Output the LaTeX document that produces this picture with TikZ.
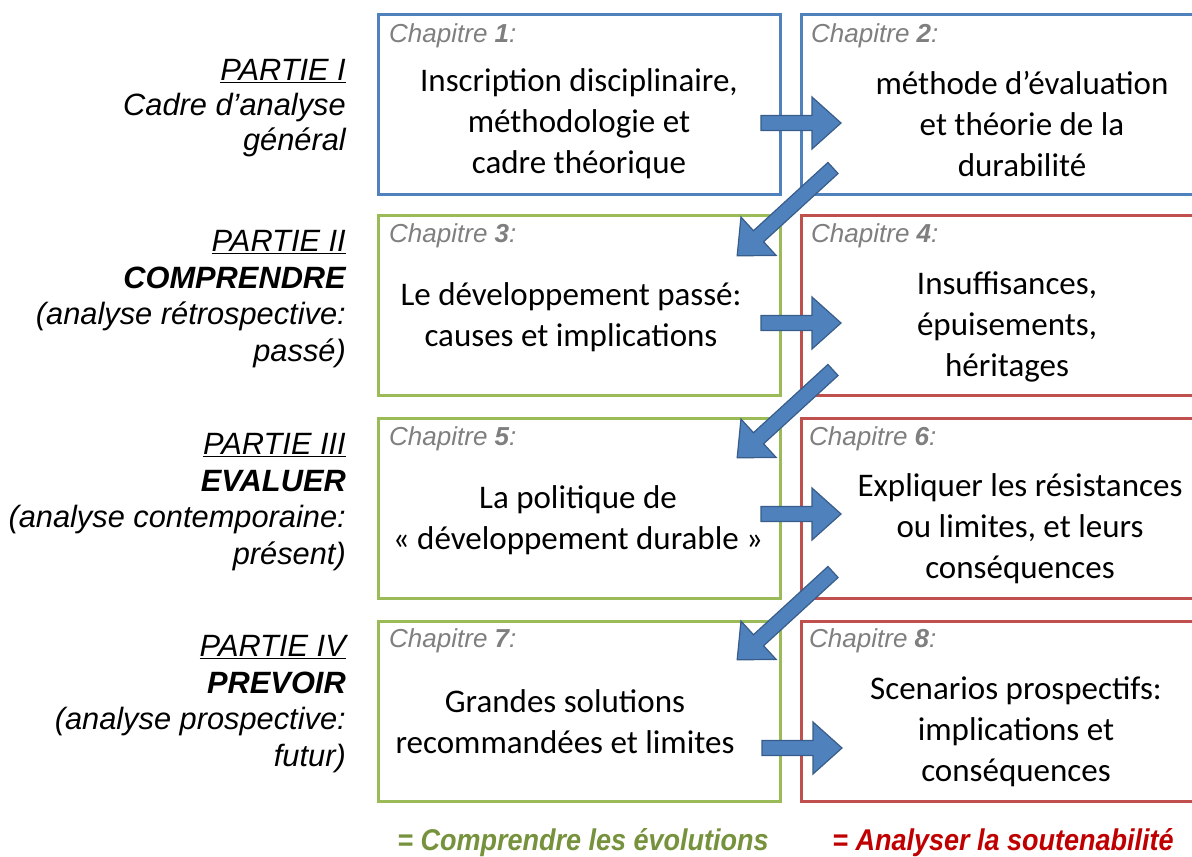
\documentclass[tikz,border=0pt]{standalone}
\usepackage{fontspec}
\setmainfont{Carlito}
\newfontfamily\arialf{Liberation Sans}
\usepackage{graphicx}
\definecolor{boxblue}{HTML}{4F81BD}
\definecolor{boxgreen}{HTML}{9BBB59}
\definecolor{boxred}{HTML}{C0504D}
\definecolor{arrowedge}{HTML}{385D8A}
\definecolor{chapgray}{HTML}{7F7F7F}
\definecolor{leggreen}{HTML}{76923C}
\definecolor{legred}{HTML}{C00000}
\begin{document}
\begin{tikzpicture}[x=1pt,y=-1pt,
  box/.style={draw,line width=3pt,minimum width=402pt,minimum height=180pt,inner sep=0pt},
  bluebox/.style={box,draw=boxblue},
  greenbox/.style={box,draw=boxgreen},
  redbox/.style={box,draw=boxred},
  body/.style={align=center,inner sep=0pt,font=\fontsize{33}{41}\selectfont},
  lab/.style={anchor=east,align=right,inner sep=0pt,font=\arialf\itshape\fontsize{30.8}{36.5}\selectfont},
  chap/.style={anchor=west,inner sep=0pt,text=chapgray,font=\arialf\itshape\fontsize{26}{30}\selectfont},
  legend/.style={inner sep=0pt,font=\arialf\bfseries\itshape\fontsize{30}{36}\selectfont},
  arrowfill/.style={fill=boxblue,draw=arrowedge,line width=1.2pt,line join=miter},
  pics/barrow/.style={code={\filldraw[arrowfill] (0,-7.5) -- ({#1-29},-7.5) -- ({#1-29},-26) -- (#1,0) -- ({#1-29},26) -- ({#1-29},7.5) -- (0,7.5) -- cycle;}}
]
\useasboundingbox (0,0) rectangle (1192,857);
\clip (0,0) rectangle (1192,857);
\fill[white] (0,0) rectangle (1192,857);

% boxes
\node[bluebox]  (b1) at (579.5,104) {};
\node[bluebox]  (b2) at (1002.5,104) {};
\node[greenbox] (b3) at (579.5,305.5) {};
\node[redbox]   (b4) at (1002.5,305.5) {};
\node[greenbox] (b5) at (579.5,508.5) {};
\node[redbox]   (b6) at (1002.5,508.5) {};
\node[greenbox] (b7) at (579.5,711) {};
\node[redbox]   (b8) at (1002.5,711) {};

% chapter labels
\node[chap] (c1) at (389,36) {Chapitre \textbf{1}:};
\node[chap] (c2) at (811,36) {Chapitre \textbf{2}:};
\node[chap] (c3) at (389,236) {Chapitre \textbf{3}:};
\node[chap] (c4) at (811,236) {Chapitre \textbf{4}:};
\node[chap] (c5) at (389,439) {Chapitre \textbf{5}:};
\node[chap] (c6) at (809,439) {Chapitre \textbf{6}:};
\node[chap] (c7) at (389,641) {Chapitre \textbf{7}:};
\node[chap] (c8) at (809,641) {Chapitre \textbf{8}:};

% body texts
\node[body] (t1) at (579,124) {Inscription disciplinaire,\\méthodologie et\\cadre théorique};
\node[body] (t2) at (1022,124) {méthode d’évaluation\\et théorie de la\\durabilité};
\node[body] (t3) at (571,317) {Le développement passé:\\causes et implications};
\node[body] (t4) at (1007,327) {Insuffisances,\\épuisements,\\héritages};
\node[body] (t5) at (578,520) {La politique de\\« développement durable »};
\node[body] (t6) at (1020,529) {Expliquer les résistances\\ou limites, et leurs\\conséquences};
\node[body] (t7) at (565,722) {Grandes solutions\\recommandées et limites};
\node[body] (t8) at (1016,732) {Scenarios prospectifs:\\implications et\\conséquences};

% left labels
\node[lab,font=\arialf\itshape\fontsize{30.8}{35}\selectfont] (p1) at (346,108) {\underline{PARTIE I}\\Cadre d’analyse\\général};
\node[lab] (p2) at (346,299) {\underline{PARTIE II}\\\textbf{COMPRENDRE}\\(analyse rétrospective:\\passé)};
\node[lab] (p3) at (346,502) {\underline{PARTIE III}\\\textbf{EVALUER}\\(analyse contemporaine:\\présent)};
\node[lab] (p4) at (346,704) {\underline{PARTIE IV}\\\textbf{PREVOIR}\\(analyse prospective:\\futur)};

% horizontal arrows
\pic at (761,123) {barrow=80};
\pic at (761,323) {barrow=80};
\pic at (761,514) {barrow=80};
\pic at (762,748) {barrow=80};

% diagonal arrows
\pic[rotate=222.5] at (833,168) {barrow=130};
\pic[rotate=222.5] at (833,370) {barrow=130};
\pic[rotate=222.5] at (833,572) {barrow=130};

% legend
\node[legend,text=leggreen] (l1) at (583,843) {\scalebox{0.9}[1]{= Comprendre les évolutions}};
\node[legend,text=legred] (l2) at (1003,843) {\scalebox{0.9}[1]{= Analyser la soutenabilité}};
\end{tikzpicture}
\end{document}
